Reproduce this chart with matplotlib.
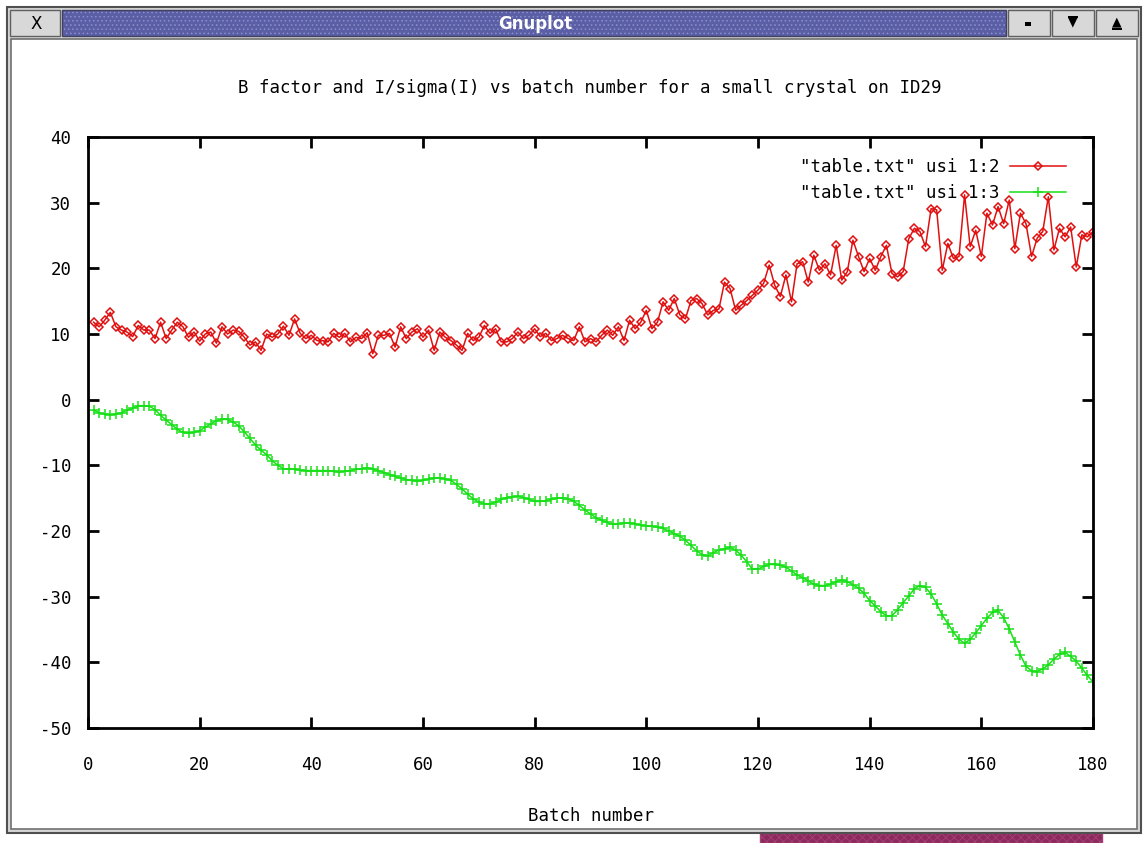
import matplotlib.pyplot as plt
import matplotlib.patches as mpatches
import numpy as np

plt.rcParams['axes.unicode_minus'] = False
plt.rcParams['hatch.linewidth'] = 0.6

batch = np.arange(1, 181)

# column 2 of table.txt: B factor per batch
b_factor = [
    11.8, 11.1, 12.1, 13.3, 11.1, 10.6, 10.3, 9.6, 11.3, 10.6,
    10.6, 9.3, 11.8, 9.3, 10.6, 11.8, 11.1, 9.5, 10.3, 8.9,
    10.0, 10.3, 8.6, 11.1, 10.0, 10.6, 10.4, 9.5, 8.3, 8.8,
    7.5, 10.0, 9.5, 10.0, 11.2, 9.8, 12.3, 10.1, 9.3, 9.8,
    9.0, 9.0, 8.8, 10.1, 9.5, 10.1, 8.8, 9.5, 9.3, 10.2,
    7.0, 9.8, 9.8, 10.1, 8.0, 11.1, 9.3, 10.3, 10.8, 9.5,
    10.6, 7.5, 10.3, 9.5, 9.0, 8.3, 7.5, 10.1, 9.0, 9.5,
    11.3, 10.1, 10.8, 8.8, 8.8, 9.3, 10.3, 9.3, 9.8, 10.8,
    9.6, 10.1, 9.0, 9.3, 9.8, 9.3, 9.0, 11.1, 8.8, 9.3,
    8.8, 9.8, 10.6, 9.8, 11.1, 9.0, 12.1, 10.8, 11.8, 13.6,
    10.8, 11.8, 14.9, 13.6, 15.4, 12.9, 12.3, 15.1, 15.4, 14.6,
    12.9, 13.6, 13.8, 17.9, 16.9, 13.6, 14.4, 15.1, 15.9, 16.7,
    17.7, 20.5, 17.4, 15.7, 19.0, 14.9, 20.7, 21.0, 17.9, 22.0,
    19.7, 20.7, 19.0, 23.5, 18.2, 19.5, 24.3, 21.8, 19.5, 21.5,
    19.7, 21.8, 23.5, 19.2, 18.7, 19.5, 24.5, 26.1, 25.6, 23.3,
    29.1, 28.9, 19.7, 23.8, 21.5, 21.8, 31.2, 23.3, 25.8, 21.8,
    28.4, 26.6, 29.4, 26.8, 30.4, 23.0, 28.4, 26.8, 21.8, 24.6,
    25.6, 30.9, 22.8, 26.1, 24.8, 26.3, 20.2, 25.1, 24.8, 25.6,
]

# column 3 of table.txt
i_sigma = [
    -1.6, -2.0, -2.2, -2.3, -2.2, -2.0, -1.6, -1.3, -1.0, -0.9,
    -1.0, -1.5, -2.4, -3.1, -3.8, -4.5, -5.0, -5.1, -5.0, -4.7,
    -4.2, -3.7, -3.2, -3.0, -3.0, -3.4, -4.0, -4.9, -5.9, -6.9,
    -7.7, -8.4, -9.3, -10.0, -10.5, -10.6, -10.6, -10.7, -10.8, -10.8,
    -10.8, -10.8, -10.8, -10.9, -11.0, -10.9, -10.8, -10.6, -10.5, -10.4,
    -10.6, -10.8, -11.1, -11.4, -11.7, -11.9, -12.2, -12.3, -12.4, -12.3,
    -12.1, -11.9, -11.9, -12.1, -12.3, -12.9, -13.6, -14.4, -15.1, -15.6,
    -15.9, -15.9, -15.6, -15.2, -14.9, -14.8, -14.7, -14.9, -15.2, -15.5,
    -15.5, -15.4, -15.2, -15.0, -15.0, -15.1, -15.5, -16.1, -16.8, -17.4,
    -18.0, -18.4, -18.7, -19.0, -18.9, -18.8, -18.8, -18.9, -19.1, -19.2,
    -19.3, -19.4, -19.6, -20.0, -20.4, -20.8, -21.4, -22.2, -23.0, -23.6,
    -23.8, -23.3, -22.9, -22.7, -22.5, -22.9, -23.7, -24.7, -25.8, -25.8,
    -25.4, -25.1, -25.1, -25.2, -25.5, -26.1, -26.7, -27.1, -27.6, -28.1,
    -28.3, -28.3, -28.1, -27.7, -27.5, -27.7, -28.2, -28.7, -29.5, -30.6,
    -31.4, -32.3, -32.9, -32.9, -32.0, -30.9, -29.9, -28.8, -28.3, -28.6,
    -29.6, -31.1, -32.8, -34.1, -35.4, -36.5, -37.1, -36.5, -35.5, -34.4,
    -33.3, -32.4, -32.1, -33.2, -34.9, -36.9, -38.9, -40.6, -41.3, -41.4,
    -41.0, -40.4, -39.5, -38.8, -38.5, -39.1, -39.8, -40.9, -42.0, -43.0,
]

x_ticks = list(range(0, 181, 20))
y_ticks = list(range(-50, 41, 10))
labels = ['"table.txt" usi 1:2', '"table.txt" usi 1:3']

W, H = 1146, 843
MONO = 'DejaVu Sans Mono'
FS = 12.5

fig = plt.figure(figsize=(W / 100, H / 100), dpi=100)
fig.patch.set_facecolor('white')


def rect(x, y, w, h, z=-2, **kw):
    # pixel box measured from the top-left corner of the figure
    r = mpatches.Rectangle((x / W, 1 - (y + h) / H), w / W, h / H,
                           transform=fig.transFigure, zorder=z, **kw)
    fig.add_artist(r)
    return r


def ftext(x, y, s, **kw):
    fig.text(x / W, 1 - y / H, s, **kw)


# window frame
rect(760, 833, 342, 10, facecolor='#8c2a5c', edgecolor='#a8407a',
     hatch='xxxx')
rect(7, 7, 1134, 826, facecolor='#d6d6d6', edgecolor='#505050', lw=1.5)
rect(11, 39, 1126, 790, facecolor='white', edgecolor='#707070', lw=1.2)

# title bar
rect(62, 10, 944, 26, facecolor='#5a5ea4', edgecolor='#8b8fcc', hatch='....',
     lw=0)
rect(62, 10, 944, 26, facecolor='none', edgecolor='#404060', lw=1)
ftext(535, 24, 'Gnuplot', color='white', fontsize=12, fontweight='bold',
      family='DejaVu Sans', ha='center', va='center')
rect(10, 10, 50, 26, facecolor='#d8d8d8', edgecolor='#606060', lw=1)
ftext(36, 24, 'X', fontsize=12, family='DejaVu Sans', ha='center',
      va='center')
for bx in (1008, 1052, 1096):
    rect(bx, 10, 42, 26, facecolor='#d8d8d8', edgecolor='#606060', lw=1)
rect(1025, 22, 6, 4, z=3, facecolor='black', edgecolor='none')
ftext(1073, 22, '\u25bc', fontsize=9, family='DejaVu Sans', ha='center',
      va='center')
rect(1068, 16, 10, 2, z=3, facecolor='black', edgecolor='none')
ftext(1117, 22, '\u25b2', fontsize=9, family='DejaVu Sans', ha='center',
      va='center')
rect(1112, 28, 10, 2, z=3, facecolor='black', edgecolor='none')

ftext(590, 88, 'B factor and I/sigma(I) vs batch number for a small '
      'crystal on ID29', family=MONO, fontsize=FS, ha='center',
      va='center')

ax = fig.add_axes([88 / W, 1 - 728 / H, (1093 - 88) / W, (728 - 137) / H])
ax.patch.set_alpha(0)
ax.plot(batch, b_factor, color='#e01010', lw=1.1, marker='D', ms=4.2,
        mfc='none', mec='#e01010', mew=1.1, label=labels[0])
ax.plot(batch, i_sigma, color='#18e018', lw=1.1, marker='+', ms=6.5,
        mew=1.1, label=labels[1])

ax.set_xlim(0, 180)
ax.set_ylim(-50, 40)
ax.set_xticks(x_ticks)
ax.set_yticks(y_ticks)
ax.tick_params(direction='in', length=8, width=2, top=True, right=True,
               labelsize=FS)
ax.tick_params(axis='x', pad=20)
ax.tick_params(axis='y', pad=12)
for lab in ax.get_xticklabels() + ax.get_yticklabels():
    lab.set_family(MONO)
for sp in ax.spines.values():
    sp.set_linewidth(2.0)
ax.set_xlabel('Batch number', family=MONO, fontsize=FS, labelpad=24)

leg = ax.legend(loc='upper right', bbox_to_anchor=(0.985, 0.985),
                markerfirst=False, frameon=False, numpoints=1,
                handlelength=3.2, handletextpad=0.6, labelspacing=0.45,
                borderpad=0.2, prop={'family': MONO, 'size': FS})
for t in leg.get_texts():
    t.set_ha('right')

fig.savefig('out.png', dpi=100)
